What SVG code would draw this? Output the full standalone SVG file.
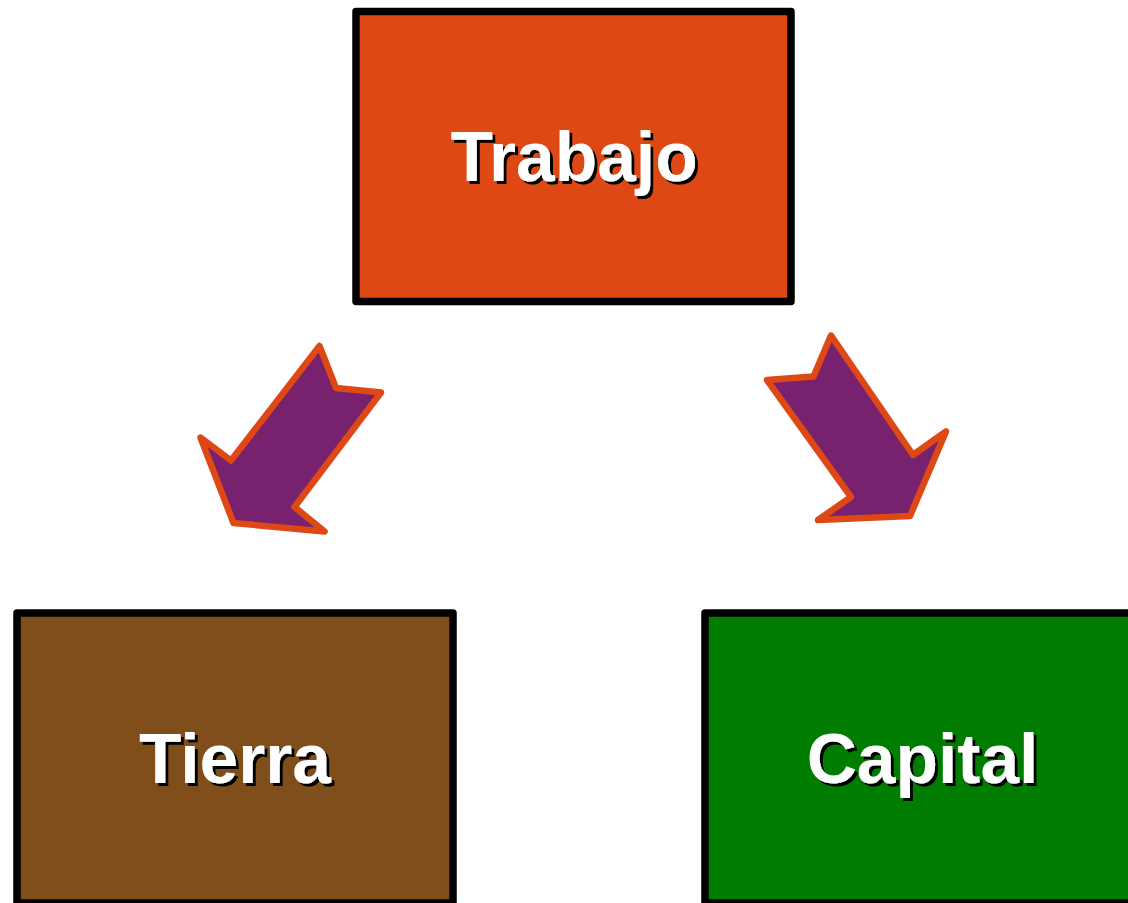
<svg xmlns="http://www.w3.org/2000/svg" width="1128" height="903" viewBox="0 0 1128 903">
<defs>
<filter id="shadow" x="-10%" y="-20%" width="120%" height="140%">
<feOffset in="SourceAlpha" dx="3" dy="3" result="off"/>
<feMerge><feMergeNode in="off"/><feMergeNode in="SourceGraphic"/></feMerge>
</filter>
</defs>
<style>
.box{stroke:#000;stroke-width:7.5;stroke-linejoin:round}
.lbl{font-family:"Liberation Sans",Arial,sans-serif;font-weight:bold;font-size:69.5px;text-anchor:middle;fill:#fff;filter:url(#shadow)}
.arr{fill:#77216F;stroke:#DD4814;stroke-width:6.5;stroke-linejoin:round}
</style>
<rect width="1128" height="903" fill="#fff"/>
<g id="connectors">
<polygon class="arr" points="319.5,346 336,388 381,392.5 294.5,507 324.5,531.5 233.5,523 200.5,437.5 231,460.5"/>
<polygon class="arr" points="831,335.5 913,455 946,431.5 910,516 818,520 851,497 767,380 813.5,376.5"/>
</g>
<g id="trabajo">
<rect class="box" x="356" y="11.5" width="435" height="290" fill="#DD4814"/>
<text class="lbl" x="574" y="181">Trabajo</text>
</g>
<g id="tierra">
<rect class="box" x="17" y="613" width="436" height="290" fill="#7F4E1B"/>
<text class="lbl" x="235" y="783">Tierra</text>
</g>
<g id="capital">
<rect class="box" x="705" y="613" width="435" height="290" fill="#007D00"/>
<text class="lbl" x="922.5" y="783">Capital</text>
</g>
</svg>
